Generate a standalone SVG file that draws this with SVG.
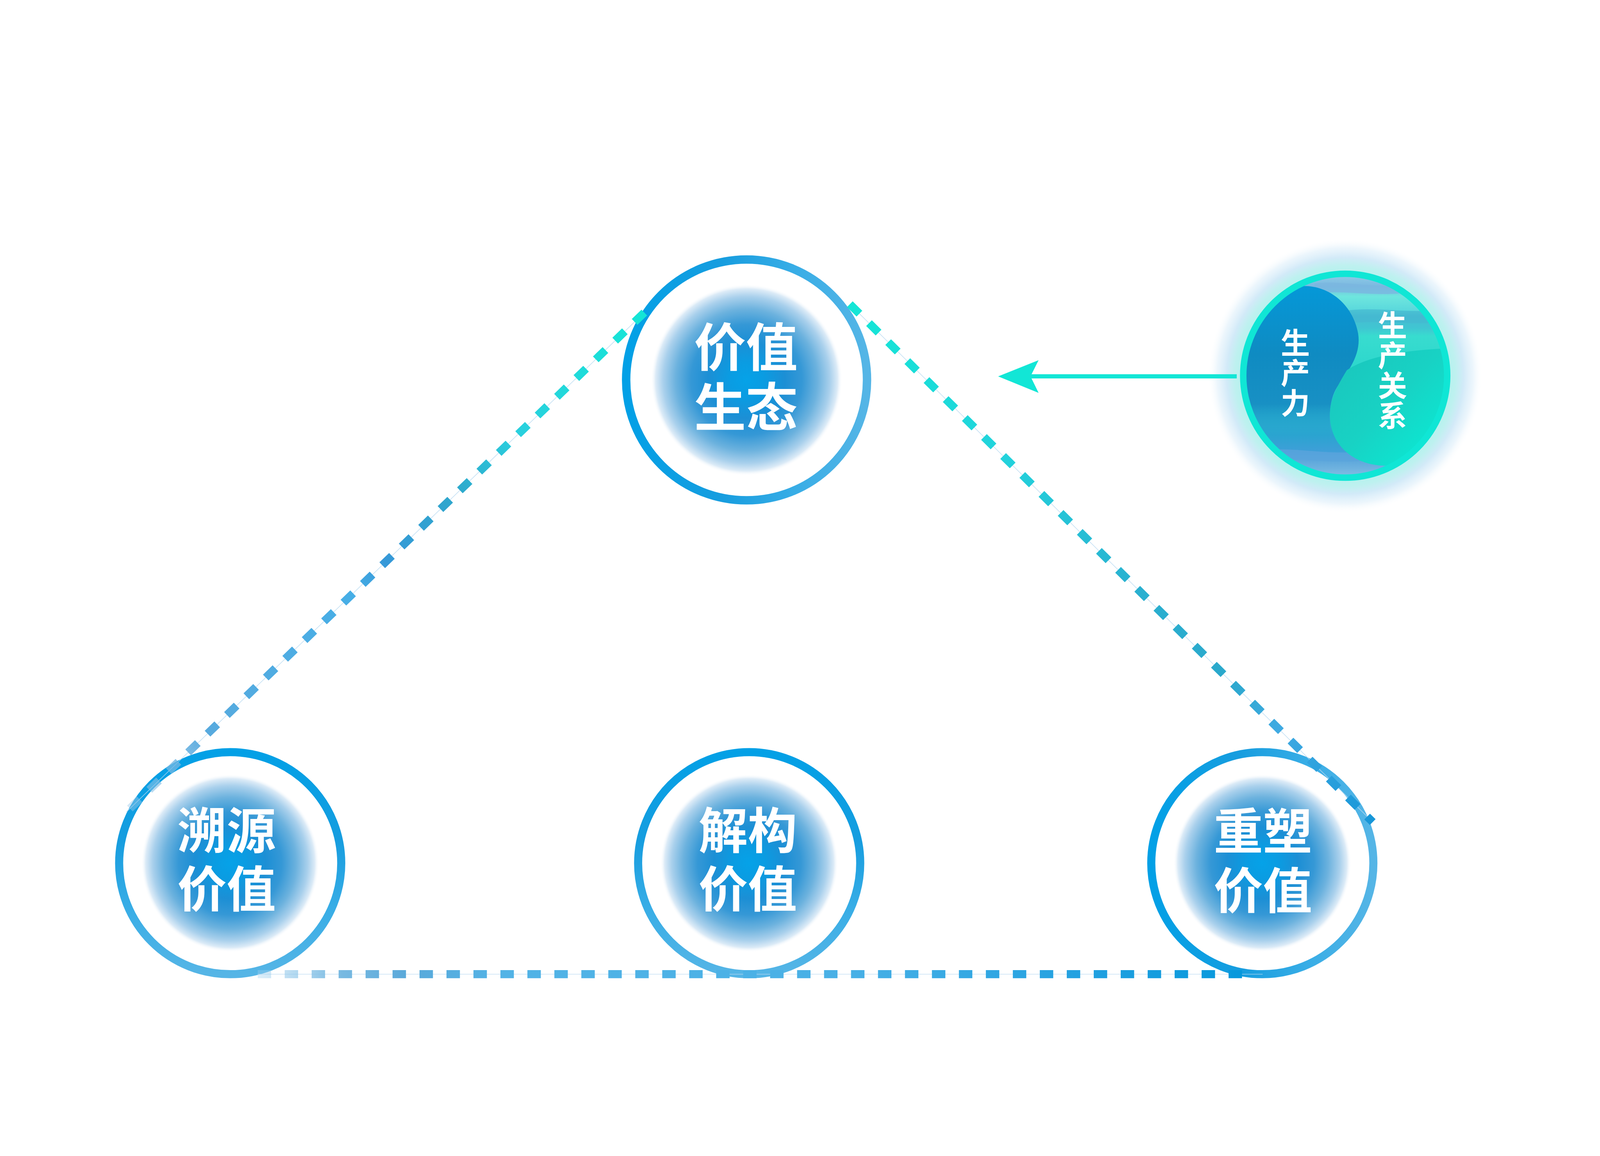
<svg xmlns="http://www.w3.org/2000/svg" width="4942" height="2960" viewBox="0 0 4942 2960">
<style>
svg:root{width:100vw;height:100vh}
.lbl{font-family:"Noto Sans CJK SC","Noto Sans",sans-serif;font-weight:700;fill:#ffffff;text-anchor:middle}
.big{font-size:160px}
.mid{font-size:152px}
.vert{font-size:90px;writing-mode:vertical-rl;letter-spacing:3px}
.dash{fill:none;stroke-width:25;stroke-dasharray:41.5 41.8}
.thin{fill:none;stroke:#b8d9f1;stroke-width:2;opacity:0.8}
</style>
<defs>
<linearGradient id="ringH" x1="0" y1="0" x2="1" y2="0">
<stop offset="0" stop-color="#02a0e6"/><stop offset="0.4" stop-color="#179ddf"/><stop offset="0.7" stop-color="#38ade6"/><stop offset="1" stop-color="#55b5e6"/>
</linearGradient>
<linearGradient id="ringV" x1="0" y1="0" x2="0" y2="1">
<stop offset="0" stop-color="#02a0e6"/><stop offset="0.4" stop-color="#179ddf"/><stop offset="0.7" stop-color="#38ade6"/><stop offset="1" stop-color="#55b5e6"/>
</linearGradient>
<radialGradient id="blob" cx="0.5" cy="0.5" r="0.5">
<stop offset="0" stop-color="#05a2e8"/><stop offset="0.18" stop-color="#0a9ce2"/><stop offset="0.4" stop-color="#1c8fd5"/><stop offset="0.58" stop-color="#3598d6"/><stop offset="0.74" stop-color="#6cb2de"/><stop offset="0.87" stop-color="#a9d0ec"/><stop offset="0.95" stop-color="#dcebf7"/><stop offset="1" stop-color="#ffffff" stop-opacity="0"/>
</radialGradient>
<linearGradient id="gLeft" gradientUnits="userSpaceOnUse" x1="1990" y1="660" x2="390" y2="2203">
<stop offset="0" stop-color="#14e6d6"/><stop offset="0.25" stop-color="#2acfde"/><stop offset="0.36" stop-color="#2ea8cc"/><stop offset="0.5" stop-color="#3698d8"/><stop offset="0.56" stop-color="#46aee6"/><stop offset="0.85" stop-color="#58aade"/><stop offset="1" stop-color="#9fcbea" stop-opacity="0.4"/>
</linearGradient>
<linearGradient id="gRight" gradientUnits="userSpaceOnUse" x1="2625" y1="634" x2="4240" y2="2234">
<stop offset="0" stop-color="#14e6d6"/><stop offset="0.3" stop-color="#22d2dc"/><stop offset="0.55" stop-color="#2ab0d0"/><stop offset="0.72" stop-color="#2aa8cc"/><stop offset="0.82" stop-color="#40aae2"/><stop offset="1" stop-color="#1696d8"/>
</linearGradient>
<linearGradient id="gBottom" gradientUnits="userSpaceOnUse" x1="796" y1="0" x2="3837" y2="0">
<stop offset="0" stop-color="#9fcfee" stop-opacity="0.35"/><stop offset="0.08" stop-color="#7bbbe2"/><stop offset="0.15" stop-color="#5aa9da"/><stop offset="0.25" stop-color="#52b3e6"/><stop offset="0.6" stop-color="#48b0e6"/><stop offset="0.85" stop-color="#20a0e0"/><stop offset="1" stop-color="#0698dc"/>
</linearGradient>
<radialGradient id="glow" gradientUnits="userSpaceOnUse" cx="4155" cy="855" r="425">
<stop offset="0.72" stop-color="#b2f2ee"/><stop offset="0.8" stop-color="#bdf1ef"/><stop offset="0.86" stop-color="#d2eaf8"/><stop offset="0.93" stop-color="#e4f2fb" stop-opacity="0.7"/><stop offset="1" stop-color="#ffffff" stop-opacity="0"/>
</radialGradient>
<linearGradient id="bgR" gradientUnits="userSpaceOnUse" x1="0" y1="549" x2="0" y2="1161">
<stop offset="0" stop-color="#8cc8e6"/><stop offset="0.05" stop-color="#7ab8e0"/><stop offset="0.1" stop-color="#6ee6de"/><stop offset="0.17" stop-color="#5ad8dc"/><stop offset="0.2" stop-color="#46bcd2"/><stop offset="0.26" stop-color="#40c6d2"/><stop offset="0.3" stop-color="#38dccf"/><stop offset="0.5" stop-color="#2ad6cc"/><stop offset="0.8" stop-color="#2aa4d0"/><stop offset="0.88" stop-color="#3e9fd8"/><stop offset="0.93" stop-color="#5ea8dc"/><stop offset="1" stop-color="#7cbbe2"/>
</linearGradient>
<linearGradient id="blueLobe" gradientUnits="userSpaceOnUse" x1="0" y1="578" x2="0" y2="1045">
<stop offset="0" stop-color="#0598d8"/><stop offset="0.45" stop-color="#0f8bc2"/><stop offset="0.78" stop-color="#1890c4"/><stop offset="1" stop-color="#2aa2d0" stop-opacity="0"/>
</linearGradient>
<linearGradient id="tealLobe" gradientUnits="userSpaceOnUse" x1="4110" y1="820" x2="4420" y2="1120">
<stop offset="0" stop-color="#1ac6bd"/><stop offset="0.5" stop-color="#18d2c4"/><stop offset="1" stop-color="#0aead4"/>
</linearGradient>
<clipPath id="rClip"><circle cx="4155" cy="855" r="307"/></clipPath>
</defs>

<g id="node-top">
<circle cx="2306" cy="868" r="296" fill="url(#blob)"/>
<circle cx="2306" cy="868" r="372" fill="none" stroke="url(#ringH)" stroke-width="26"/>
<text class="lbl big" x="2304"><tspan x="2304" y="826">价值</tspan><tspan x="2304" y="1012">生态</tspan></text>
</g>

<g id="node-left">
<circle cx="711" cy="2361" r="275" fill="url(#blob)"/>
<circle cx="711" cy="2361" r="343" fill="none" stroke="url(#ringV)" stroke-width="25"/>
<text class="lbl mid" x="700"><tspan x="700" y="2316">溯源</tspan><tspan x="700" y="2497">价值</tspan></text>
</g>

<g id="node-middle">
<circle cx="2314" cy="2361" r="275" fill="url(#blob)"/>
<circle cx="2314" cy="2361" r="343" fill="none" stroke="url(#ringV)" stroke-width="25"/>
<text class="lbl mid" x="2310"><tspan x="2310" y="2316">解构</tspan><tspan x="2310" y="2497">价值</tspan></text>
</g>

<g id="node-right">
<circle cx="3899" cy="2361" r="275" fill="url(#blob)"/>
<circle cx="3899" cy="2361" r="343" fill="none" stroke="url(#ringH)" stroke-width="25"/>
<text class="lbl mid" x="3901"><tspan x="3901" y="2319">重塑</tspan><tspan x="3901" y="2502">价值</tspan></text>
</g>

<g id="node-production">
<circle cx="4155" cy="855" r="425" fill="url(#glow)"/>
<g clip-path="url(#rClip)">
<rect x="3840" y="540" width="640" height="630" fill="url(#bgR)"/>
<path d="M4060,570 C4150,560 4230,585 4330,575 L4330,600 C4240,610 4150,590 4060,600 Z" fill="#7ab6e0" opacity="0.8"/>
<path d="M4150,655 C4250,640 4350,665 4460,650 L4460,690 C4350,700 4250,680 4150,695 Z" fill="#44b8d0" opacity="0.7"/>
<path d="M3900,1085 C4000,1075 4100,1100 4200,1090 L4200,1118 C4100,1128 4000,1105 3900,1115 Z" fill="#5aa4dc" opacity="0.8"/>
<path d="M3840,760 C3880,660 3950,580 4021,578 C4110,575 4180,640 4195,725 C4205,790 4165,840 4130,890 C4105,930 4105,980 4110,1045 L3840,1045 Z" fill="url(#blueLobe)"/>
<path d="M4160,838 C4130,888 4105,930 4108,985 C4112,1070 4180,1130 4275,1133 L4480,1133 L4480,770 C4360,775 4230,790 4160,838 Z" fill="url(#tealLobe)"/>
</g>
<circle cx="4155" cy="855" r="315" fill="none" stroke="#10e6d5" stroke-width="20"/>
<text class="lbl vert" x="4001" y="848">生产力</text>
<text class="lbl vert" x="4301" y="840">生产关系</text>
</g>

<g id="connectors">
<path class="thin" d="M1990,660 L390,2203"/>
<path class="dash" stroke="url(#gLeft)" d="M1990,660 L390,2203"/>
<path class="thin" d="M2625,634 L4240,2234"/>
<path class="dash" stroke="url(#gRight)" d="M2625,634 L4240,2234"/>
<path class="thin" d="M796,2704 L3900,2704"/>
<path class="dash" stroke="url(#gBottom)" d="M796,2704 L3837,2704"/>
<line x1="3180" y1="857" x2="3820" y2="857" stroke="#12e6d6" stroke-width="13"/>
<polygon points="3083,857 3208,807 3183,857 3208,908" fill="#12e6d6"/>
</g>
</svg>
